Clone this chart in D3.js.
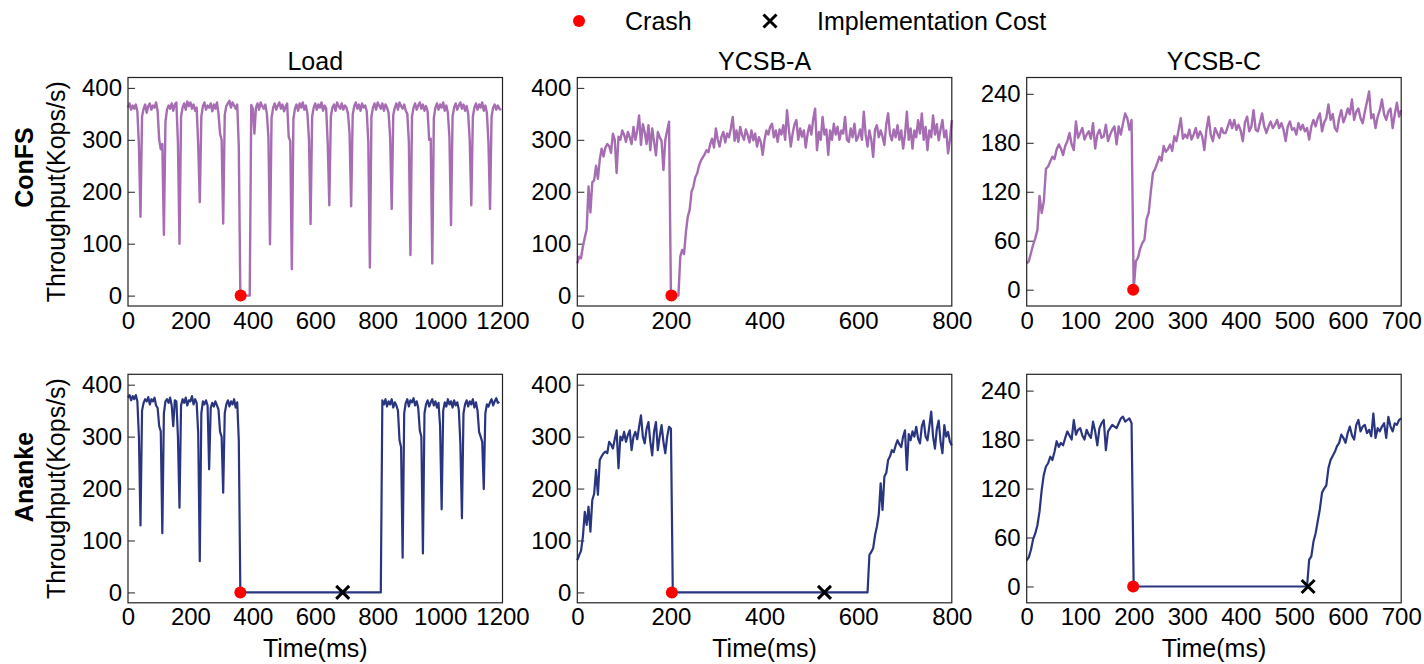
<!DOCTYPE html>
<html><head><meta charset="utf-8">
<script src="https://cdn.jsdelivr.net/npm/d3@7"></script>
<style>
body{margin:0;background:#fff;}
svg{display:block;font-family:"Liberation Sans",Arial,Helvetica,sans-serif;}
</style>
</head><body>
<svg id="chart" width="1424" height="664"></svg>
<script>
// ---------------- DATA ----------------
const workloads = ["Load", "YCSB-A", "YCSB-C"];
const systems = ["ConFS", "Ananke"];
const xDomains = [[0, 1200], [0, 800], [0, 700]];
const yDomains = [[-20, 420], [-20, 420], [-20, 260]];
const xTicks = [[0, 200, 400, 600, 800, 1000, 1200], [0, 200, 400, 600, 800], [0, 100, 200, 300, 400, 500, 600, 700]];
const yTicks = [[0, 100, 200, 300, 400], [0, 100, 200, 300, 400], [0, 60, 120, 180, 240]];
const sampleStep = [5, 4, 4]; // ms between samples, per workload

// ConFS - Load (pre-crash from t=0, zero outage, post-recovery)
const confsLoadPre = [362,370,358,366,360,368,355,290,152,345,
360,368,352,365,370,358,366,362,372,355,
300,282,292,117,335,358,366,360,370,356,
368,372,295,100,345,362,370,358,374,365,
372,360,368,356,362,290,180,345,365,372,
358,366,362,370,355,368,360,372,350,312,
300,139,348,365,370,375,362,372,366,360,
368,287];
const confsLoadOutage = [360, 390];
const confsLoadPost = [367,360,312,362,370,358,372,365,360,368,
350,305,99,342,362,370,358,366,372,360,
368,355,364,370,305,298,51,340,360,368,
356,370,362,372,358,366,350,300,138,345,
362,370,358,368,362,372,356,366,360,293,
174,345,362,368,356,372,365,360,370,358,
366,362,350,312,172,348,365,372,360,368,
356,370,362,366,355,295,54,345,362,370,
358,372,366,360,370,356,368,362,352,305,
167,348,362,370,358,372,365,360,368,356,
350,295,78,345,362,370,358,366,372,360,
368,356,365,355,300,302,62,342,362,370,
358,368,362,372,356,366,352,305,136,345,
362,370,358,366,372,360,368,356,365,350,
300,174,345,362,370,358,368,362,372,356,
366,352,295,167,345,362,368,358,366,360,
357];

// Ananke - Load
const anankeLoadPre = [375,380,370,378,372,380,368,300,129,350,
365,372,368,376,362,372,368,375,360,355,
320,310,114,345,368,372,365,375,360,320,
370,368,300,163,360,372,365,375,360,370,
368,378,362,372,365,306,60,345,368,362,
370,360,237,355,365,358,368,360,352,309,
300,192,345,362,370,358,368,362,372,356,
366,293];
const anankeLoadOutage = [360, 810];
const anankeLoadPost = [370,362,372,358,368,362,372,356,366,360,
350,293,280,67,345,365,372,358,370,366,
374,360,368,355,312,300,75,345,362,370,
358,366,372,360,368,356,365,320,160,350,
366,358,372,362,368,356,370,360,366,352,
287,143,345,362,370,358,368,362,372,356,
366,350,309,300,290,199,345,362,358,366,
372,360,368,374,365,367];

// ConFS - YCSB-A
const confsAPre = [62,75,72,95,112,128,210,160,218,222,
250,225,262,283,268,285,292,288,275,312,
300,236,306,300,318,310,296,315,305,292,
325,300,318,347,290,330,315,292,328,280,
322,296,270,315,305,298,242,300,318,335];
const confsAOutage = [200, 216];
const confsAPost = [75,88,80,122,152,165,200,210,228,235,
250,260,266,272,280,276,292,302,285,322,
300,287,306,315,295,312,305,322,344,298,
318,296,325,309,300,320,309,295,318,299,
312,287,305,296,271,300,318,310,325,331,
305,318,296,320,310,328,300,357,320,287,
312,330,338,300,322,306,318,285,312,328,
310,340,360,280,315,300,344,310,320,271,
318,300,331,310,325,300,318,312,344,300,
296,322,305,331,298,306,320,300,354,310,
287,318,300,267,320,328,305,318,306,290,
330,351,310,299,320,305,328,300,318,283,
310,354,300,322,283,318,305,338,312,351,
300,325,280,318,305,347,310,330,299,320,
338,305,318,274,300,338];

// Ananke - YCSB-A
const anankeAPre = [62,72,80,108,155,130,165,117,178,190,
236,188,255,262,268,271,268,290,285,277,
295,312,239,300,293,309,290,303,312,274,
300,309,295,319,341,300,287,315,328,290,
264,310,328,274,300,322,290,268,300,319,
315];
const anankeAOutage = [204, 620];
const anankeAPost = [72,78,85,110,127,150,210,159,223,230,
255,262,274,270,283,293,285,280,300,312,
236,305,293,310,300,319,296,287,320,331,
300,293,320,348,300,277,315,331,290,268,
322,300,309,290,283];

// ConFS - YCSB-C
const confsCPre = [32,35,45,55,63,73,115,94,108,148,
151,157,163,160,172,178,173,165,176,182,
192,178,171,206,186,192,198,184,190,194,
185,204,173,190,196,186,188,202,182,190,
196,200,178,200,190,204,216,210,196,208];
const confsCOutage = [200, 200];
const confsCPost = [35,39,50,57,61,86,94,120,143,148,
155,163,158,176,169,172,178,170,188,182,
196,210,185,190,186,196,184,190,198,186,
194,188,171,196,212,190,182,198,192,186,
198,192,192,200,208,198,208,196,202,195,
182,205,212,194,200,220,196,194,205,216,
200,192,200,206,198,202,208,198,204,196,
182,200,206,196,198,190,204,196,202,194,
198,184,200,208,200,210,216,194,205,210,
227,208,215,198,194,210,220,205,212,222,
215,233,208,218,222,210,204,218,230,243,
210,215,198,212,220,233,215,208,218,222,
198,215,229,212,220];

// Ananke - YCSB-C
const anankeCPre = [32,36,45,58,65,75,92,118,137,147,
151,159,155,165,178,171,176,173,182,190,
185,180,204,186,192,194,185,180,192,186,
182,202,190,173,194,200,204,167,190,194,
198,196,194,200,206,208,202,204,206,200];
const anankeCOutage = [200, 524];
const anankeCPost = [33,37,55,65,80,95,115,120,124,145,
155,160,165,172,176,186,182,176,188,196,
185,180,198,204,190,196,198,188,192,184,
212,182,194,190,196,200,182,208,196,190,
200,198,204,206];

// Event markers (ms)
const crashTimes = [[361, 201, 199], [360, 202, 199]];
const implCostTimes = [[null, null, null], [688, 528, 526]];

const lineColors = ["#a66db2", "#2a3580"];

// ---------------- LAYOUT ----------------
const colX = [128, 577.3, 1026.7], panelW = 374.5;
const rowY = [77.5, 374.3], panelH = 228.5;
const rowLabelY = [167.5, 477];

const seriesData = [
  [[confsLoadPre, confsLoadOutage, confsLoadPost], [confsAPre, confsAOutage, confsAPost], [confsCPre, confsCOutage, confsCPost]],
  [[anankeLoadPre, anankeLoadOutage, anankeLoadPost], [anankeAPre, anankeAOutage, anankeAPost], [anankeCPre, anankeCOutage, anankeCPost]]
];

function buildPoints(pre, outage, post, step) {
  const pts = pre.map((v, i) => [i * step, v]);
  pts.push([outage[0], 0]);
  pts.push([outage[1], 0]);
  const start = outage[1] + step;
  post.forEach((v, i) => pts.push([start + i * step, v]));
  return pts;
}

const svg = d3.select("#chart");

function xMarker(g, cx, cy, s, sw) {
  g.append("path")
    .attr("d", `M${cx - s},${cy - s}L${cx + s},${cy + s}M${cx - s},${cy + s}L${cx + s},${cy - s}`)
    .attr("stroke", "#000").attr("stroke-width", sw).attr("fill", "none");
}

systems.forEach((sys, r) => {
  workloads.forEach((wl, c) => {
    const g = svg.append("g").attr("transform", `translate(${colX[c]},${rowY[r]})`);
    const x = d3.scaleLinear().domain(xDomains[c]).range([0, panelW]);
    const y = d3.scaleLinear().domain(yDomains[c]).range([panelH, 0]);

    // Y axis (inward ticks)
    const ya = g.append("g").call(d3.axisLeft(y).tickValues(yTicks[c]).tickFormat(d3.format("d"))
      .tickSizeInner(-7).tickSizeOuter(0).tickPadding(6));
    ya.select(".domain").remove();
    ya.selectAll("line").attr("stroke", "#222").attr("stroke-width", 1);
    ya.selectAll("text").attr("font-size", 24).attr("fill", "#000").attr("font-family", null);

    // X axis (no visible ticks)
    const xa = g.append("g").attr("transform", `translate(0,${panelH})`)
      .call(d3.axisBottom(x).tickValues(xTicks[c]).tickFormat(d3.format("d")).tickSize(0).tickPadding(5.5));
    xa.select(".domain").remove();
    xa.selectAll("text").attr("font-size", 24).attr("fill", "#000").attr("font-family", null);

    // line
    const pts = buildPoints(...seriesData[r][c], sampleStep[c]);
    g.append("path").datum(pts)
      .attr("d", d3.line().x(d => x(d[0])).y(d => y(d[1])))
      .attr("fill", "none").attr("stroke", lineColors[r]).attr("stroke-width", r === 0 ? 2.4 : 2.2)
      .attr("stroke-linejoin", "round");

    // frame
    g.append("rect").attr("width", panelW).attr("height", panelH)
      .attr("fill", "none").attr("stroke", "#222").attr("stroke-width", 1.2);

    // markers
    g.append("circle").attr("cx", x(crashTimes[r][c])).attr("cy", y(0)).attr("r", 6).attr("fill", "#ff0000");
    if (implCostTimes[r][c] !== null) xMarker(g, x(implCostTimes[r][c]), y(0), 6.5, 3);

    if (r === 0) {
      svg.append("text").attr("x", colX[c] + panelW / 2).attr("y", 70)
        .attr("text-anchor", "middle").attr("font-size", 25).text(wl);
    }
    if (r === 1) {
      svg.append("text").attr("x", colX[c] + panelW / 2).attr("y", 657)
        .attr("text-anchor", "middle").attr("font-size", 25).text("Time(ms)");
    }
  });
  const cy = rowY[r] + panelH / 2;
  svg.append("text").attr("transform", `translate(65,${cy}) rotate(-90)`)
    .attr("text-anchor", "middle").attr("font-size", 25).text("Throughput(Kops/s)");
  svg.append("text").attr("transform", `translate(33,${rowLabelY[r]}) rotate(-90)`)
    .attr("text-anchor", "middle").attr("font-size", 25).attr("font-weight", "bold").text(sys);
});

// Legend
const leg = svg.append("g");
leg.append("circle").attr("cx", 579).attr("cy", 21).attr("r", 6).attr("fill", "#ff0000");
leg.append("text").attr("x", 625).attr("y", 30).attr("font-size", 25).text("Crash");
xMarker(leg, 770, 21, 6.5, 3);
leg.append("text").attr("x", 817).attr("y", 30).attr("font-size", 25).text("Implementation Cost");
</script>
</body></html>
